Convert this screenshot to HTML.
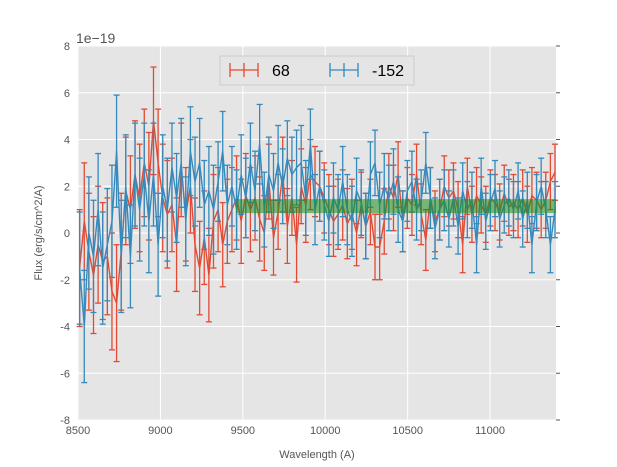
<!DOCTYPE html>
<html><head><meta charset="utf-8"><style>
body{margin:0;background:#fff;}
svg{display:block;font-family:"Liberation Sans",sans-serif;}
</style></head><body>
<svg id="chart" width="617" height="467">
<rect x="78" y="46" width="478" height="374" fill="#e5e5e5"/>
<g id="grid"></g>
<g id="series"></g>
<g id="axes"></g>
<text x="76" y="43" font-size="14" fill="#555">1e−19</text>
<text x="317" y="458" font-size="11" fill="#555" text-anchor="middle">Wavelength (A)</text>
<text transform="translate(42,233) rotate(-90)" font-size="11" fill="#555" text-anchor="middle">Flux (erg/s/cm^2/A)</text>
<g>
<rect x="220" y="56" width="194" height="29" fill="#e5e5e5" stroke="#ccc" stroke-width="1"/>
<g>
<line x1="230" y1="70" x2="258" y2="70" stroke="#E24A33" stroke-width="1.3"/>
<line x1="230" y1="63" x2="230" y2="77" stroke="#E24A33" stroke-width="1.3"/>
<line x1="258" y1="63" x2="258" y2="77" stroke="#E24A33" stroke-width="1.3"/>
<line x1="244" y1="63" x2="244" y2="77" stroke="#E24A33" stroke-width="1.3"/>
<text x="272" y="76" font-size="16" fill="#000">68</text>
</g>
<g>
<line x1="330" y1="70" x2="358" y2="70" stroke="#348ABD" stroke-width="1.3"/>
<line x1="330" y1="63" x2="330" y2="77" stroke="#348ABD" stroke-width="1.3"/>
<line x1="358" y1="63" x2="358" y2="77" stroke="#348ABD" stroke-width="1.3"/>
<line x1="344" y1="63" x2="344" y2="77" stroke="#348ABD" stroke-width="1.3"/>
<text x="372" y="76" font-size="16" fill="#000">-152</text>
</g>
</g>
</svg>
<script>
const xStart = 8510, xStepA = 28;
const redFlux = [-1.5,0.5,-0.8,-1.8,-0.5,-1.2,-1.0,-2.5,-3.0,-0.8,
1.8,1.0,2.5,1.5,3.0,2.0,4.8,3.0,1.5,0.8,
1.2,-0.5,2.7,0.8,2.0,-0.5,-1.5,-0.2,-1.8,0.5,
1.0,-0.5,0.5,1.0,1.5,0.5,1.6,1.0,1.5,0.6,
0.0,2.2,-0.2,0.9,2.5,0.3,1.5,-0.5,2.0,1.2,
2.5,2.2,2.0,1.5,1.0,0.5,0.8,1.2,0.4,0.8,
0.0,1.2,0.3,0.9,-0.6,-0.6,0.5,2.0,1.5,2.5,
0.5,1.5,1.2,2.5,0.8,-0.3,1.5,0.5,1.0,2.0,
1.5,1.8,1.0,-0.5,2.0,0.8,1.6,1.2,0.8,1.5,
1.3,0.9,1.7,1.1,1.3,1.0,1.5,0.8,1.6,1.4,
1.0,1.4,2.2,2.6];
const blueFlux = [-1.5,-4.0,0.0,-1.0,1.0,-1.5,-0.5,0.5,3.5,-1.0,
2.0,-1.0,2.5,1.0,2.5,0.5,2.5,-0.5,2.0,1.0,
2.8,1.5,3.0,0.5,3.5,2.2,3.0,1.2,1.8,1.0,
2.2,3.5,1.2,2.0,1.0,2.5,1.5,3.0,1.8,3.8,
1.0,2.5,1.8,3.0,2.0,3.2,2.5,2.8,3.0,1.5,
3.8,1.0,2.0,1.2,0.5,1.5,1.0,2.2,1.0,0.5,
1.8,1.3,0.3,2.5,3.0,1.2,2.0,1.5,2.2,1.0,
0.5,1.8,2.2,1.0,1.4,3.0,1.5,0.2,1.0,1.4,
0.6,1.5,0.3,1.8,1.0,1.4,-0.5,2.0,0.5,1.3,
1.9,0.6,1.2,1.5,1.0,1.8,0.6,1.4,-0.5,1.3,
2.0,1.0,-0.5,1.0];
const redErrBlock = [2.5,2.3,2.0,1.8,1.6,1.5,1.4,1.3,1.2,1.2,1.2];
const blueErrBlock = [2.4,2.2,1.9,1.7,1.6,1.5,1.4,1.3,1.2,1.2,1.2];
const bandRange = [9460, 11400];
const bandFlux = [0.85, 1.45];
const xTicks = [8500,9000,9500,10000,10500,11000];
const yTicks = [-8,-6,-4,-2,0,2,4,6,8];

const NS='http://www.w3.org/2000/svg';
const X0=78,X1=556,Y0=46,Y1=420, xmin=8500,xmax=11400,ymin=-8,ymax=8;
const xs=v=>X0+(v-xmin)/(xmax-xmin)*(X1-X0);
const ys=v=>Y1-(v-ymin)/(ymax-ymin)*(Y1-Y0);
function mk(tag,attrs,parent){const e=document.createElementNS(NS,tag);for(const k in attrs)e.setAttribute(k,attrs[k]);parent.appendChild(e);return e;}
const grid=document.getElementById('grid'),axes=document.getElementById('axes'),ser=document.getElementById('series');
xTicks.forEach(t=>{
 const l=mk('line',{x1:xs(t),x2:xs(t),y1:Y0,y2:Y1,stroke:'#fff','stroke-width':1},grid);
 
 
 const tx=mk('text',{x:xs(t),y:Y1+14,'font-size':11,fill:'#555','text-anchor':'middle'},axes);
 tx.textContent=t;
 
 
});
yTicks.forEach(t=>{
 const l=mk('line',{x1:X0,x2:X1,y1:ys(t),y2:ys(t),stroke:'#fff','stroke-width':1},grid);
 
 
 const tx=mk('text',{x:X0-8,y:ys(t)+4,'font-size':11,fill:'#555','text-anchor':'end'},axes);
 tx.textContent=t;
 
 
 mk('line',{x1:X1,x2:X1+4,y1:ys(t),y2:ys(t),stroke:'#555'},axes);
});
function drawSeries(vals,errs,color,name){
 const g=mk('g',{},ser);
 
 
 let d='';
 vals.forEach((v,i)=>{
  const x=xs(xStart+i*xStepA), e=errs[Math.floor(i/10)];
  const a=ys(v+e), b=ys(v-e);
  mk('line',{x1:x,x2:x,y1:a,y2:b,stroke:color,'stroke-width':1.3},g);
  mk('line',{x1:x-3,x2:x+3,y1:a,y2:a,stroke:color,'stroke-width':1.3},g);
  mk('line',{x1:x-3,x2:x+3,y1:b,y2:b,stroke:color,'stroke-width':1.3},g);
  d+=(i?'L':'M')+x.toFixed(1)+','+ys(v).toFixed(1);
 });
 const p=mk('path',{d:d,fill:'none',stroke:color,'stroke-width':1.4},g);
 
 
}
drawSeries(redFlux,redErrBlock,'#E24A33','series-68');
drawSeries(blueFlux,blueErrBlock,'#348ABD','series-minus-152');
const band=mk('rect',{x:xs(bandRange[0]),y:ys(bandFlux[1]),width:xs(bandRange[1])-xs(bandRange[0]),height:ys(bandFlux[0])-ys(bandFlux[1]),fill:'#1e8c1e','fill-opacity':0.55},ser);


</script>
</body></html>
